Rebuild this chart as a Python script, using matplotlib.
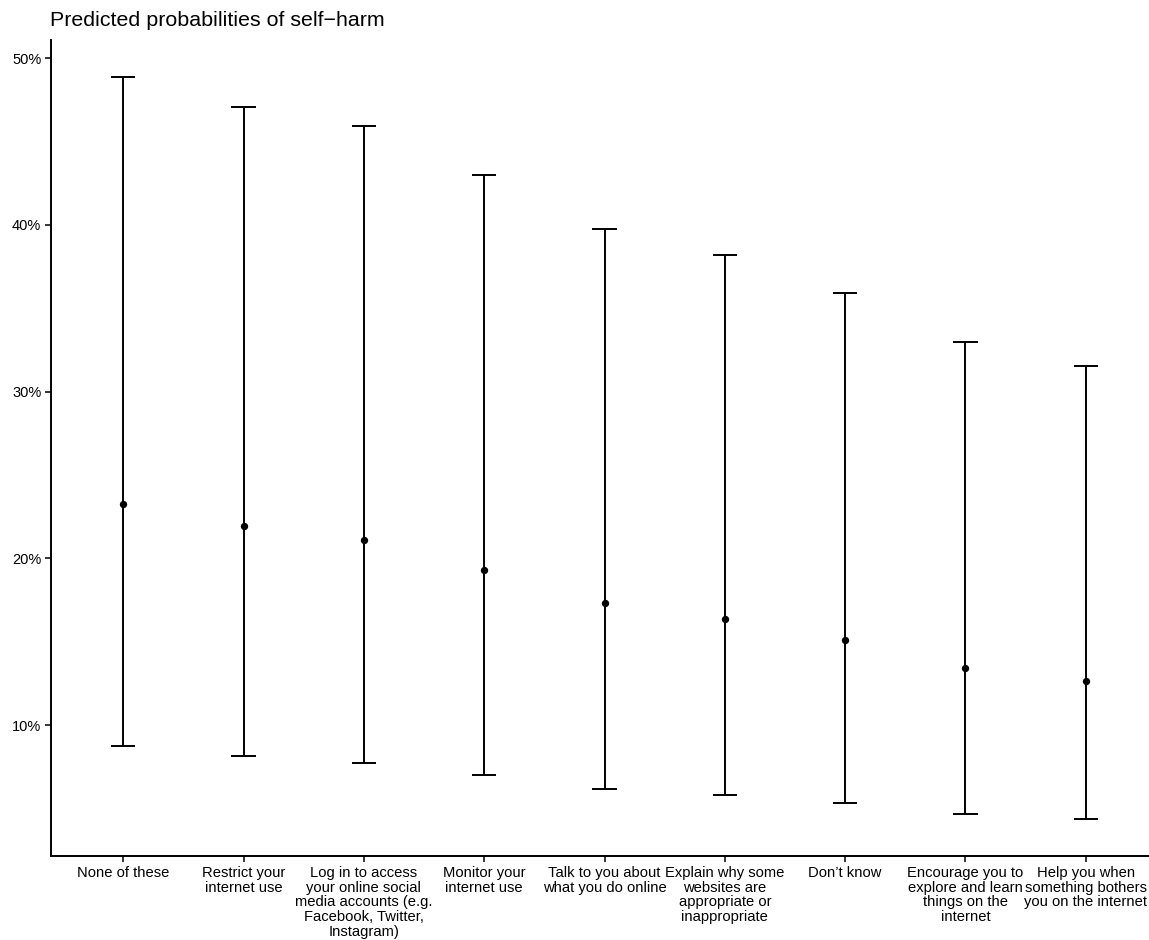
import matplotlib
matplotlib.use("Agg")
import matplotlib.pyplot as plt
from matplotlib.ticker import FuncFormatter

plt.rcParams['font.family'] = ['Liberation Sans', 'DejaVu Sans']

categories = [
    "None of these",
    "Restrict your\ninternet use",
    "Log in to access\nyour online social\nmedia accounts (e.g.\nFacebook, Twitter,\nInstagram)",
    "Monitor your\ninternet use",
    "Talk to you about\nwhat you do online",
    "Explain why some\nwebsites are\nappropriate or\ninappropriate",
    "Don\u2019t know",
    "Encourage you to\nexplore and learn\nthings on the\ninternet",
    "Help you when\nsomething bothers\nyou on the internet",
]
predicted = [0.2323, 0.2192, 0.2108, 0.1928, 0.1731, 0.1635, 0.1509, 0.1341, 0.1263]
conf_low = [0.0874, 0.0814, 0.0772, 0.0700, 0.0617, 0.0581, 0.0533, 0.0467, 0.0437]
conf_high = [0.4886, 0.4707, 0.4593, 0.4300, 0.3976, 0.3820, 0.3593, 0.3300, 0.3156]

W, H = 1149, 940
fig = plt.figure(figsize=(W / 100, H / 100), dpi=100)
# panel runs slightly past the right edge of the canvas
ax = fig.add_axes([51 / W, (H - 856) / H, (1158 - 51) / W, (856 - 40) / H])

x = list(range(1, len(categories) + 1))
cap = 0.1
for xi, lo, hi in zip(x, conf_low, conf_high):
    ax.plot([xi, xi], [lo, hi], color="black", lw=1.4, solid_capstyle="butt")
    ax.plot([xi - cap, xi + cap], [lo, lo], color="black", lw=1.4, solid_capstyle="butt")
    ax.plot([xi - cap, xi + cap], [hi, hi], color="black", lw=1.4, solid_capstyle="butt")
ax.scatter(x, predicted, s=28, color="black", zorder=3, linewidths=0)

lo_all, hi_all = min(conf_low), max(conf_high)
pad = (hi_all - lo_all) * 0.05
ax.set_ylim(lo_all - pad, hi_all + pad)
ax.set_xlim(0.4, len(categories) + 0.6)
ax.set_yticks([0.1, 0.2, 0.3, 0.4, 0.5])
ax.yaxis.set_major_formatter(FuncFormatter(lambda v, p: f"{v * 100:.0f}%"))
ax.set_xticks(x)
ax.set_xticklabels(categories, fontsize=10.6, linespacing=1.08)
for lab in ax.get_yticklabels():
    lab.set_fontsize(10.5)

for side in ("top", "right"):
    ax.spines[side].set_visible(False)
for side in ("left", "bottom"):
    ax.spines[side].set_linewidth(1.4)
ax.tick_params(axis="both", length=4, width=1.1, colors="black", pad=3)

fig.text(50 / W, 1 - 26 / H, "Predicted probabilities of self\u2212harm", fontsize=15.4,
         ha="left", va="baseline")

fig.savefig("out.png", dpi=100)
